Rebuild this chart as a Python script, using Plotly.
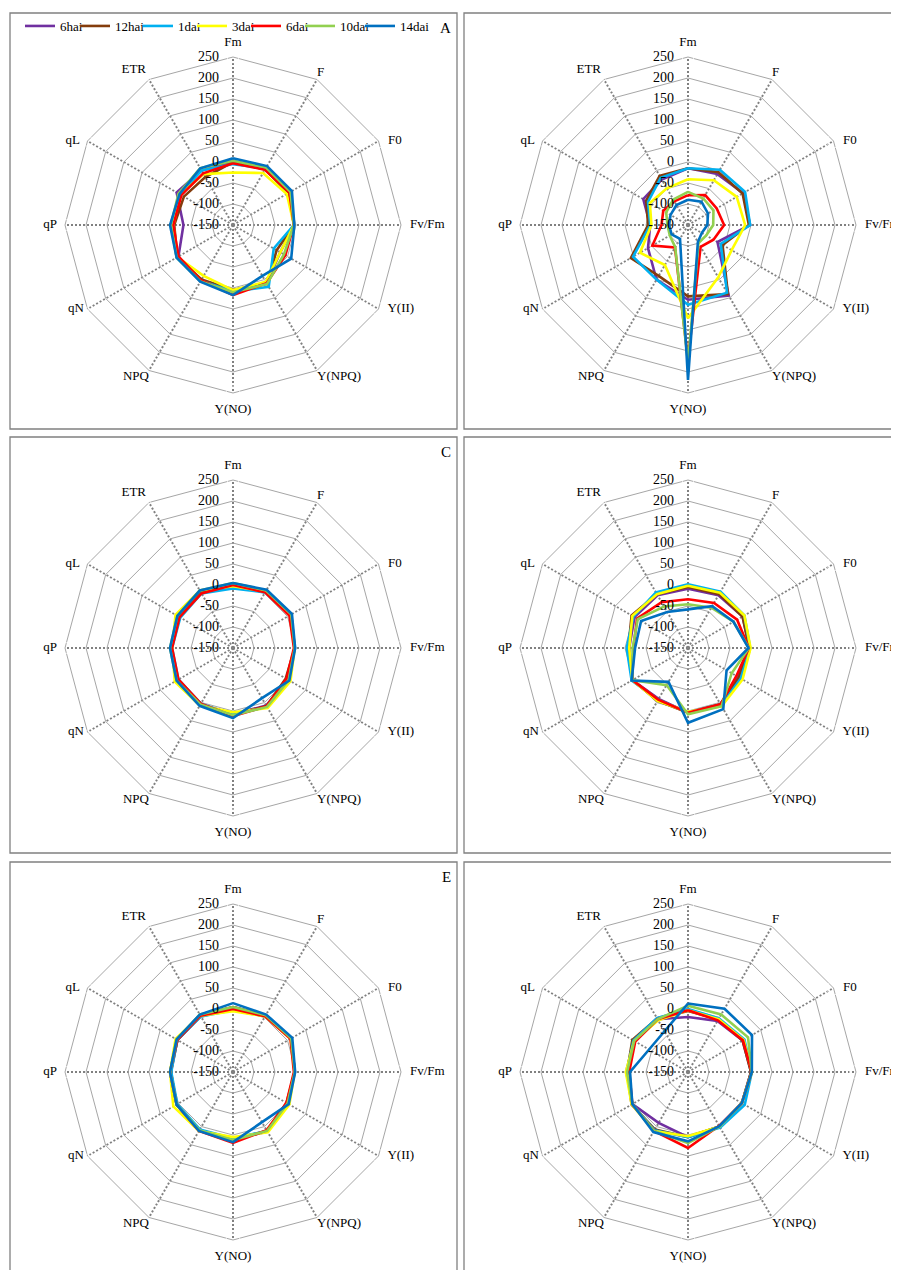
import plotly.graph_objects as go

W, H = 899, 1270
OFF = 8  # the page body adds an 8px margin; reference coordinates include it

axes_labels = ["Fm", "F", "F0", "Fv/Fm", "Y(II)", "Y(NPQ)", "Y(NO)", "NPQ", "qN", "qP", "qL", "ETR"]
series_names = ["6hai", "12hai", "1dai", "3dai", "6dai", "10dai", "14dai"]
series_colors = ["#7030A0", "#843C0C", "#00B0F0", "#FFFF00", "#FF0000", "#92D050", "#0070C0"]
radial_ticks = [-150, -100, -50, 0, 50, 100, 150, 200, 250]
radial_tick_text = ["-150", "-100", "-50", "0", "50", "100", "150", "200", "250"]
panel_letters = ["A", "B", "C", "D", "E", "F"]

# values per panel: one list per series, in the order of axes_labels
panel_A = [
    [2, 5, 5, -5, -20, 10, 5, 5, 0, -32, 5, 0],
    [0, 3, 3, -5, -30, 12, 5, 0, 3, -10, -15, -18],
    [-5, 5, 8, -5, -38, 20, 8, 3, 5, -5, -5, 0],
    [-25, -7, -2, -5, -20, 6, 5, -10, 3, -8, -5, -10],
    [-3, 2, 5, -5, -6, 10, 17, 2, 0, -8, -8, -8],
    [3, 8, 8, -5, -10, 12, 10, 5, 5, -2, 0, 6],
    [9, 12, 12, -4, 10, -10, 17, 6, 5, 0, -3, 6],
]
panel_B = [
    [-15, -10, 2, -2, -69, 44, 28, 0, -40, -60, -27, -25],
    [-15, -5, 0, -5, -55, 40, 20, -10, 7, -55, -35, -15],
    [-15, 2, 7, -2, -60, 36, 40, 0, 1, -60, -40, -20],
    [-41, -27, -16, -14, -30, -6, 72, -40, -18, -63, -45, -49],
    [-79, -68, -71, -64, -80, -90, 171, -88, -52, -87, -82, -85],
    [-71, -77, -80, -90, -100, -100, 178, -89, -100, -101, -90, -80],
    [-90, -86, -95, -104, -112, -103, 219, -112, -105, -105, -102, -95],
]
panel_C = [
    [3, 8, 10, -3, 0, 8, 8, 5, 3, -3, 0, 5],
    [2, 6, 8, -3, -5, 10, 8, 5, 2, -3, 0, 3],
    [-8, 3, 8, -3, 0, 12, 8, 3, 0, -5, -5, 0],
    [-3, 5, 8, -3, 8, 15, 3, 8, 10, -5, 8, 8],
    [0, 3, 5, -5, -3, 10, 12, 3, 0, -5, -3, 0],
    [5, 8, 10, -3, 3, 12, 10, 5, 5, 0, 3, 8],
    [5, 10, 12, -2, 5, -12, 17, 9, 5, 0, 3, 8],
]
panel_D = [
    [-9, -5, 0, -4, -15, 5, 4, -10, 3, -10, -3, -5],
    [-5, -2, 0, -4, -10, 5, 4, -5, 3, -8, 5, -2],
    [2, 5, 5, -2, -5, 8, 4, -8, 5, -4, 0, 3],
    [-2, 2, 5, -1, 0, 10, 2, -5, 3, -10, 3, -2],
    [-34, -26, -15, -5, -17, 5, 4, -8, 3, -20, -10, -24],
    [-46, -39, -25, -5, -30, 10, 8, -48, 3, -18, -12, -36],
    [-58, -35, -25, -6, -44, 18, 28, -57, 5, -24, -21, -51],
]
panel_E = [
    [5, 5, 10, -3, 0, 14, 10, 10, 5, -2, 3, 5],
    [5, 5, 10, -3, -3, 12, 10, 10, 5, -2, 3, 5],
    [-3, 3, 10, -3, 0, 12, 8, 8, 3, -3, 3, 3],
    [-5, 3, 8, -3, 5, 16, 5, 12, 14, 0, 8, 5],
    [0, 3, 8, -5, -3, 10, 19, 12, 5, 0, 3, 5],
    [5, 6, 10, -3, 0, 12, 12, 10, 5, 0, 5, 8],
    [14, 8, 13, -2, 3, -12, 17, 12, 5, 0, 5, 8],
]
panel_F = [
    [-19, -10, 0, 0, -2, 0, 5, -10, 3, -5, 0, -5],
    [-5, -5, 0, 0, -2, 0, 5, 8, 5, -5, 3, -3],
    [0, -3, 5, 2, 6, 3, 5, 10, 3, -4, 0, -2],
    [-3, -5, 3, 2, -2, 0, 3, 12, 5, -2, -2, -8],
    [-3, -8, 1, 2, -2, -2, 31, 12, 3, -10, -5, -5],
    [8, 8, 15, 2, -2, 0, 19, 12, 3, -5, -2, -5],
    [13, 24, 26, 2, -2, -1, 15, 15, 3, -12, -43, -38],
]
panels = [panel_A, panel_B, panel_C, panel_D, panel_E, panel_F]

# axis-name placement around the outer ring (style, not data)
label_positions = ["top center", "top right", "middle right", "middle right", "middle right",
                   "bottom right", "bottom center", "bottom left", "middle left", "middle left",
                   "middle left", "top left"]
label_gap_sizes = [11.6, 0, 13.6, 12.8, 12.8, 0, 14, 0, 4, 11.2, 10.4, 3.2]

# layout geometry (screen pixels of the reference)
R = 168
centers_x = [233, 688]
centers_y = [225, 648, 1072]
box_x = [(10, 457), (464, 908)]
box_y = [(13, 429), (437, 853), (862, 1285)]
legend_text_x = [60, 115, 178, 232, 286, 340, 400]
legend_y = 26

FONT = "Liberation Serif"
PAD = "\u00a0" * 4
N = len(panels)


def px(x):
    return (x - OFF) / W


def py(y):
    return 1 - (y - OFF) / H


fig = go.Figure()
layout_extra = {}
shapes = []
annotations = []

for i, pdata in enumerate(panels):
    row, col = divmod(i, 2)
    cx, cy = centers_x[col], centers_y[row]
    domain = dict(x=[px(cx - R), px(cx + R)], y=[py(cy + R), py(cy - R)])
    key = "polar" if i == 0 else f"polar{i+1}"
    key_lbl = f"polar{i+1+N}"
    layout_extra[key] = dict(
        domain=domain,
        gridshape="linear",
        bgcolor="white",
        radialaxis=dict(
            range=[-150, 250], tickvals=radial_ticks, angle=90,
            showline=False, showgrid=True, gridcolor="#A6A6A6", gridwidth=1,
            ticks="", showticklabels=False,
        ),
        angularaxis=dict(
            categoryarray=axes_labels, categoryorder="array",
            direction="clockwise", rotation=90,
            showgrid=True, gridcolor="#808080", gridwidth=1.8, griddash="2px,2px",
            showline=True, linecolor="#A6A6A6", linewidth=1,
            ticks="", showticklabels=False,
        ),
    )
    # transparent overlay subplot that carries the axis texts
    layout_extra[key_lbl] = dict(
        domain=domain,
        bgcolor="rgba(0,0,0,0)",
        radialaxis=dict(range=[-150, 250], visible=False),
        angularaxis=dict(categoryarray=axes_labels, categoryorder="array",
                         direction="clockwise", rotation=90, visible=False),
    )
    for s, vals in enumerate(pdata):
        lg = "legend" if s == 0 else f"legend{s+1}"
        fig.add_trace(go.Scatterpolar(
            r=vals + [vals[0]], theta=axes_labels + [axes_labels[0]],
            mode="lines", name=series_names[s],
            line=dict(color=series_colors[s], width=2.6),
            showlegend=(i == 0), legend=lg, subplot=key,
        ))
    # radial tick labels along the first spoke
    fig.add_trace(go.Scatterpolar(
        r=radial_ticks, theta=[axes_labels[0]] * len(radial_ticks),
        mode="text", text=[t + PAD for t in radial_tick_text], textposition="middle left",
        textfont=dict(family=FONT, size=14, color="black"),
        showlegend=False, hoverinfo="skip", subplot=key_lbl, cliponaxis=False,
    ))
    # axis names just outside the outer ring
    fig.add_trace(go.Scatterpolar(
        r=[radial_ticks[-1]] * len(axes_labels), theta=axes_labels,
        mode="markers+text", text=axes_labels, textposition=label_positions,
        marker=dict(size=label_gap_sizes, color="rgba(0,0,0,0)"),
        textfont=dict(family=FONT, size=13, color="black"),
        showlegend=False, hoverinfo="skip", subplot=key_lbl, cliponaxis=False,
    ))
    bx0, bx1 = box_x[col]
    by0, by1 = box_y[row]
    shapes.append(dict(type="rect", xref="paper", yref="paper",
                       x0=px(bx0), x1=px(bx1), y0=py(by1), y1=py(by0),
                       line=dict(color="#808080", width=1.3), layer="below"))
    annotations.append(dict(text=panel_letters[i], xref="paper", yref="paper",
                            x=px(bx1 - 4), y=py(by0 + 15), xanchor="right", yanchor="middle",
                            showarrow=False, font=dict(family=FONT, size=15, color="black")))

for s in range(len(series_names)):
    key = "legend" if s == 0 else f"legend{s+1}"
    layout_extra[key] = dict(
        x=px(legend_text_x[s] - 40), y=py(legend_y), xanchor="left", yanchor="middle",
        orientation="h", font=dict(family=FONT, size=13, color="black"),
        bgcolor="rgba(0,0,0,0)", borderwidth=0,
    )

fig.update_layout(
    width=W, height=H,
    margin=dict(l=0, r=0, t=0, b=0),
    paper_bgcolor="white",
    showlegend=True,
    shapes=shapes,
    annotations=annotations,
    **layout_extra,
)

fig.write_html("out.html")
